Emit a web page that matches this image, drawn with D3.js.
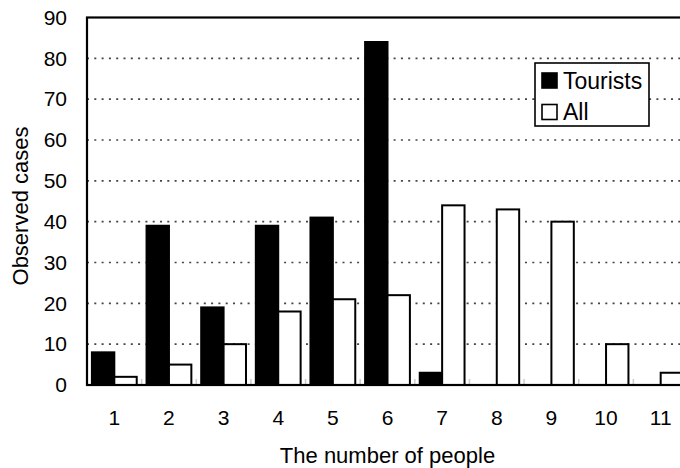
<!DOCTYPE html>
<html>
<head>
<meta charset="utf-8">
<script src="https://cdn.jsdelivr.net/npm/d3@7"></script>
<style>
  body { margin: 0; background: #fff; }
  text { font-family: "Liberation Sans", Arial, sans-serif; fill: #000; }
</style>
</head>
<body>
<div id="chart"></div>
<script>
// Data
const categories = ['1', '2', '3', '4', '5', '6', '7', '8', '9', '10', '11'];
const tourists = [8, 39, 19, 39, 41, 84, 3, 0, 0, 0, 0];
const all = [2, 5, 10, 18, 21, 22, 44, 43, 40, 10, 3];
const yTicks = [0, 10, 20, 30, 40, 50, 60, 70, 80, 90];
const seriesNames = ['Tourists', 'All'];

const width = 680, height = 468;
const margin = { left: 87, top: 17.5, bottom: 83 };
const plotRight = 688; // the frame runs past the picture's right edge

const svg = d3.select('#chart')
    .append('svg')
    .attr('width', width)
    .attr('height', height);

const x0 = d3.scaleBand()
    .domain(categories)
    .range([margin.left, plotRight])
    .paddingInner(0.18)
    .paddingOuter(0.09);

const x1 = d3.scaleBand()
    .domain(seriesNames)
    .range([0, x0.bandwidth()]);

const y = d3.scaleLinear()
    .domain([0, 90])
    .range([height - margin.bottom, margin.top]);

const color = d3.scaleOrdinal().domain(seriesNames).range(['#000', '#fff']);

// Dotted gridlines
svg.append('g')
    .selectAll('line')
    .data(yTicks.filter(d => d > 0 && d < 90))
    .join('line')
    .attr('x1', margin.left)
    .attr('x2', plotRight)
    .attr('y1', d => y(d))
    .attr('y2', d => y(d))
    .attr('stroke', '#444')
    .attr('stroke-width', 1.6)
    .attr('stroke-dasharray', '2,5.3');

// Faint category separators at the baseline
svg.append('g')
    .selectAll('line')
    .data(categories.slice(1))
    .join('line')
    .attr('x1', d => x0(d) - x0.step() * 0.09)
    .attr('x2', d => x0(d) - x0.step() * 0.09)
    .attr('y1', y(0))
    .attr('y2', y(0) - 6)
    .attr('stroke', '#ccc')
    .attr('stroke-width', 1.5);

// Bars
const rows = categories.map((c, i) => ({ cat: c, values: [
    { key: 'Tourists', value: tourists[i] },
    { key: 'All', value: all[i] }
] }));

svg.append('g')
    .selectAll('g')
    .data(rows)
    .join('g')
    .attr('transform', d => 'translate(' + x0(d.cat) + ',0)')
    .selectAll('rect')
    .data(d => d.values.filter(v => v.value > 0))
    .join('rect')
    .attr('x', d => x1(d.key))
    .attr('y', d => y(d.value))
    .attr('width', x1.bandwidth())
    .attr('height', d => y(0) - y(d.value))
    .attr('fill', d => color(d.key))
    .attr('stroke', '#000')
    .attr('stroke-width', 2);

// Frame: left, top, bottom
svg.append('rect')
    .attr('x', margin.left)
    .attr('y', y(90))
    .attr('width', plotRight - margin.left)
    .attr('height', y(0) - y(90))
    .attr('fill', 'none')
    .attr('stroke', '#000')
    .attr('stroke-width', 2.2);

// Y axis labels
const yAxis = svg.append('g')
    .attr('transform', 'translate(' + margin.left + ',0)')
    .call(d3.axisLeft(y).tickValues(yTicks).tickSize(0).tickPadding(20));
yAxis.select('.domain').remove();
yAxis.selectAll('text')
    .style('font-size', '21px')
    .style('font-family', '"Liberation Sans", Arial, sans-serif');

// X axis labels
const xAxis = svg.append('g')
    .attr('transform', 'translate(0,' + y(0) + ')')
    .call(d3.axisBottom(x0).tickSize(0).tickPadding(25));
xAxis.select('.domain').remove();
xAxis.selectAll('text')
    .style('font-size', '21px')
    .style('font-family', '"Liberation Sans", Arial, sans-serif');

// Axis titles
svg.append('text')
    .attr('x', (margin.left + plotRight) / 2)
    .attr('y', 463)
    .attr('text-anchor', 'middle')
    .style('font-size', '22px')
    .text('The number of people');

svg.append('text')
    .attr('transform', 'translate(28,206) rotate(-90)')
    .attr('text-anchor', 'middle')
    .style('font-size', '22px')
    .text('Observed cases');

// Legend
const legend = svg.append('g').attr('transform', 'translate(535,63)');
legend.append('rect')
    .attr('width', 114)
    .attr('height', 63)
    .attr('fill', '#fff')
    .attr('stroke', '#000')
    .attr('stroke-width', 1.6);

const item = legend.selectAll('.item')
    .data(seriesNames)
    .join('g')
    .attr('class', 'item')
    .attr('transform', (d, i) => 'translate(7,' + (10 + i * 31.5) + ')');
item.append('rect')
    .attr('width', 15)
    .attr('height', 15)
    .attr('fill', d => color(d))
    .attr('stroke', '#000')
    .attr('stroke-width', 1.6);
item.append('text')
    .attr('x', 21)
    .attr('y', 15.5)
    .style('font-size', '23px')
    .text(d => d);
</script>
</body>
</html>
